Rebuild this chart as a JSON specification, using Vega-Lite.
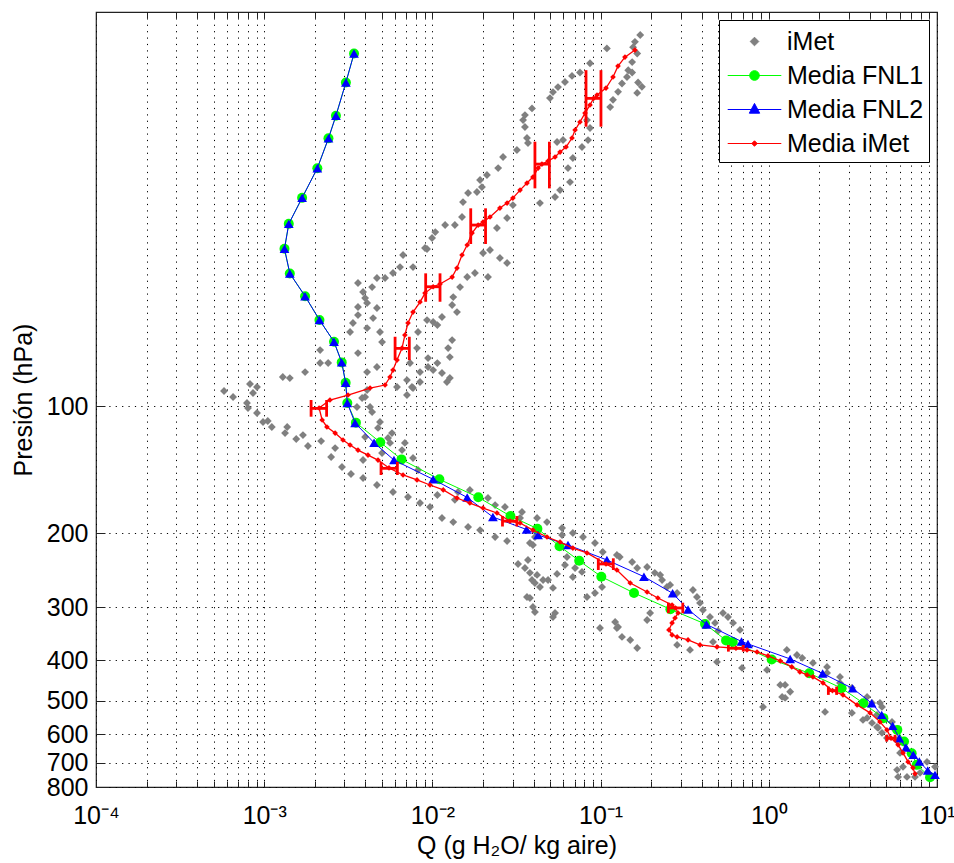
{
  "$schema": "https://vega.github.io/schema/vega-lite/v6.json",
  "width": 841,
  "height": 775,
  "autosize": {"type": "none"},
  "padding": {"left": 96, "top": 12, "right": 17, "bottom": 76},
  "background": "white",
  "config": {
    "view": {"stroke": "#222222", "strokeWidth": 1.2},
    "font": "Liberation Sans",
    "axis": {
      "domain": false,
      "gridColor": "#000000",
      "gridDash": [1.2, 5.2],
      "gridOpacity": 1,
      "gridWidth": 1,
      "tickColor": "#222222",
      "tickWidth": 1,
      "labelColor": "#000000",
      "titleColor": "#000000",
      "labelFont": "Liberation Sans",
      "titleFont": "Liberation Sans",
      "titleFontWeight": "normal"
    }
  },
  "datasets": {
    "imet": [
      {"q":0.172,"p":13.2},{"q":0.16,"p":13.7},{"q":0.156,"p":14.1},{"q":0.165,"p":14.6},{"q":0.154,"p":15.3},{"q":0.146,"p":16.0},{"q":0.167,"p":17.1},{"q":0.176,"p":17.5},{"q":0.165,"p":18.1},{"q":0.154,"p":16.2},{"q":0.1435,"p":16.6},{"q":0.134,"p":17.2},{"q":0.127,"p":18.0},{"q":0.109,"p":14.2},{"q":0.1185,"p":18.8},{"q":0.114,"p":19.56},
      {"q":0.0865,"p":15.4},{"q":0.0754,"p":16.2},{"q":0.0676,"p":16.5},{"q":0.0614,"p":17.06},{"q":0.0558,"p":17.54},{"q":0.0521,"p":18.02},{"q":0.05,"p":18.62},{"q":0.0391,"p":19.7},{"q":0.0355,"p":20.43},{"q":0.0346,"p":21.0},{"q":0.0355,"p":21.81},{"q":0.0365,"p":23.16},{"q":0.037,"p":23.8},{"q":0.0551,"p":23.67},{"q":0.0598,"p":23.41},{"q":0.083,"p":21.0},{"q":0.0865,"p":21.93},{"q":0.0842,"p":23.42},{"q":0.0775,"p":24.32},{"q":0.0684,"p":25.83},{"q":0.064,"p":27.29},{"q":0.0658,"p":29.45},{"q":0.0574,"p":30.77},{"q":0.0536,"p":31.96},{"q":0.0436,"p":33.03},
      {"q":0.0318,"p":24.72},{"q":0.0263,"p":25.69},{"q":0.0246,"p":27.29},{"q":0.0211,"p":28.34},{"q":0.0192,"p":29.13},{"q":0.0197,"p":30.27},{"q":0.0184,"p":31.1},{"q":0.0163,"p":31.27},{"q":0.0152,"p":32.85},{"q":0.015,"p":35.64},{"q":0.0136,"p":37.24},{"q":0.0119,"p":37.24},{"q":0.0104,"p":38.7},{"q":0.00995,"p":39.97},{"q":0.00904,"p":42.22},{"q":0.00767,"p":46.84},{"q":0.00669,"p":43.86},{"q":0.0301,"p":33.39},{"q":0.0278,"p":35.84},{"q":0.0242,"p":37.85},{"q":0.02,"p":43.38},{"q":0.022,"p":42.68},{"q":0.0179,"p":48.39},{"q":0.0161,"p":49.46},{"q":0.0146,"p":52.24},{"q":0.0133,"p":55.17},{"q":0.014,"p":59.88},{"q":0.0131,"p":57.62},{"q":0.0114,"p":61.53},{"q":0.0101,"p":63.23},{"q":0.0107,"p":64.28},{"q":0.00929,"p":62.55},{"q":0.0214,"p":49.46},{"q":0.0252,"p":44.59},{"q":0.0278,"p":45.82},
      {"q":0.0131,"p":69.77},{"q":0.0124,"p":72.88},{"q":0.0127,"p":76.55},{"q":0.00942,"p":80.84},{"q":0.0114,"p":83.53},{"q":0.0127,"p":85.84},{"q":0.00844,"p":83.08},{"q":0.00767,"p":90.65},{"q":0.00706,"p":86.79},{"q":0.00821,"p":66.78},{"q":0.0081,"p":72.88},{"q":0.00736,"p":79.09},{"q":0.0107,"p":79.1},{"q":0.00929,"p":42.45},{"q":0.00642,"p":46.84},{"q":0.00583,"p":48.39},{"q":0.00468,"p":49.73},{"q":0.00523,"p":49.73},{"q":0.00361,"p":51.1},{"q":0.00438,"p":52.24},{"q":0.00387,"p":53.68},{"q":0.00398,"p":55.48},{"q":0.00409,"p":57.0},{"q":0.00361,"p":58.26},{"q":0.00468,"p":58.58},{"q":0.00444,"p":61.87},{"q":0.00361,"p":60.87},{"q":0.00337,"p":63.58},{"q":0.00324,"p":66.78},{"q":0.00409,"p":65.34},{"q":0.00488,"p":66.78},{"q":0.00502,"p":70.53},
      {"q":0.00215,"p":73.69},{"q":0.00215,"p":79.09},{"q":0.0024,"p":79.09},{"q":0.00361,"p":74.9},{"q":0.00468,"p":80.84},{"q":0.00409,"p":83.08},{"q":0.00175,"p":83.08},{"q":0.00129,"p":85.37},{"q":0.00142,"p":85.85},{"q":0.00382,"p":95.73},{"q":0.00409,"p":91.64},{"q":0.00426,"p":100.5},{"q":0.00942,"p":76.97},{"q":0.00756,"p":90.15},
      {"q":0.000577,"p":92.14},{"q":0.000653,"p":95.21},{"q":0.00079,"p":98.38},{"q":0.000801,"p":101.1},{"q":0.000906,"p":103.9},{"q":0.000984,"p":109.1},{"q":0.00111,"p":112.1},{"q":0.00133,"p":115.9},{"q":0.00155,"p":119.7},{"q":0.00182,"p":124.4},{"q":0.000823,"p":88.68},{"q":0.000906,"p":90.15},{"q":0.000858,"p":93.15},{"q":0.00105,"p":108.5},{"q":0.00137,"p":112.1},{"q":0.0017,"p":117.2},{"q":0.00218,"p":121.1},{"q":0.0025,"p":132.1},{"q":0.00264,"p":125.8},{"q":0.0029,"p":139.5},{"q":0.00328,"p":144.9},{"q":0.00387,"p":148.1},{"q":0.00468,"p":153.9},{"q":0.00583,"p":159.9},{"q":0.00716,"p":164.3},{"q":0.00844,"p":169.8},{"q":0.00968,"p":173.5},
      {"q":0.00356,"p":100.5},{"q":0.00398,"p":95.21},{"q":0.00438,"p":103.3},{"q":0.00488,"p":109.1},{"q":0.00475,"p":112.7},{"q":0.00575,"p":115.9},{"q":0.00545,"p":119.1},{"q":0.00686,"p":122.3},{"q":0.00387,"p":134.3},{"q":0.00844,"p":87.7},{"q":0.0101,"p":82.18},{"q":0.00616,"p":90.15},{"q":0.00706,"p":94.17},{"q":0.0056,"p":122.3},{"q":0.00502,"p":129.2},{"q":0.00398,"p":118.4},{"q":0.0066,"p":127.2},{"q":0.00767,"p":132.8},{"q":0.00821,"p":141.8},
      {"q":0.0114,"p":184.3},{"q":0.0133,"p":188.4},{"q":0.0163,"p":193.6},{"q":0.0192,"p":196.8},{"q":0.0236,"p":204.4},{"q":0.0278,"p":208.9},{"q":0.0122,"p":87.7},{"q":0.0142,"p":159.9},{"q":0.0167,"p":158.1},{"q":0.0236,"p":171.7},{"q":0.027,"p":173.5},{"q":0.0332,"p":184.3},{"q":0.0341,"p":178.3},{"q":0.0407,"p":204.4},{"q":0.0396,"p":213.5},{"q":0.037,"p":231.7},{"q":0.0419,"p":251.4},{"q":0.0455,"p":258.4},{"q":0.0521,"p":269.9},{"q":0.0407,"p":262.7},{"q":0.038,"p":285.1},{"q":0.0396,"p":299.4},{"q":0.0536,"p":309.4},{"q":0.059,"p":202.2},{"q":0.0684,"p":200.0},{"q":0.0926,"p":211.2},{"q":0.125,"p":225.5},{"q":0.154,"p":234.2},{"q":0.189,"p":240.7},{"q":0.0992,"p":335.8},{"q":0.125,"p":335.8},{"q":0.134,"p":352.6},
      {"q":0.0107,"p":162.5},{"q":0.0136,"p":166.9},{"q":0.0214,"p":165.2},{"q":0.0419,"p":184.3},{"q":0.048,"p":188.4},{"q":0.059,"p":194.6},{"q":0.0786,"p":204.4},{"q":0.038,"p":211.2},{"q":0.0323,"p":236.8},{"q":0.0355,"p":242.0},{"q":0.038,"p":248.6},{"q":0.0391,"p":258.4},{"q":0.0436,"p":268.5},{"q":0.0365,"p":283.5},{"q":0.0407,"p":307.7},{"q":0.0487,"p":258.4},{"q":0.0551,"p":250.0},{"q":0.0614,"p":238.1},{"q":0.0631,"p":228.0},{"q":0.0705,"p":242.0},{"q":0.0684,"p":254.2},{"q":0.0775,"p":247.3},{"q":0.0521,"p":316.2},{"q":0.103,"p":221.9},{"q":0.13,"p":228.0},{"q":0.165,"p":242.0},{"q":0.21,"p":248.6},{"q":0.232,"p":258.4},{"q":0.248,"p":268.5},{"q":0.0926,"p":277.4},{"q":0.102,"p":268.5},{"q":0.083,"p":283.5},{"q":0.197,"p":309.4},
      {"q":0.226,"p":251.4},{"q":0.259,"p":265.5},{"q":0.285,"p":277.4},{"q":0.354,"p":272.9},{"q":0.374,"p":283.5},{"q":0.39,"p":292.9},{"q":0.406,"p":304.4},{"q":0.447,"p":316.2},{"q":0.479,"p":326.7},{"q":0.534,"p":309.4},{"q":0.572,"p":316.2},{"q":0.613,"p":326.7},{"q":0.674,"p":339.4},{"q":0.499,"p":341.3},{"q":0.466,"p":362.4},{"q":0.122,"p":325.0},{"q":0.127,"p":333.9},{"q":0.15,"p":358.5},{"q":0.165,"p":374.5},{"q":0.189,"p":321.5},{"q":0.285,"p":368.4},{"q":0.34,"p":378.6},{"q":0.492,"p":404.2},{"q":0.693,"p":417.6},{"q":0.976,"p":422.2},{"q":1.17,"p":458.2},{"q":1.34,"p":475.8},{"q":1.2,"p":489.3},{"q":0.924,"p":516.6},
      {"q":1.28,"p":378.6},{"q":1.47,"p":389.1},{"q":1.83,"p":406.4},{"q":2.22,"p":415.4},{"q":2.65,"p":438.7},{"q":3.12,"p":465.7},{"q":3.84,"p":489.3},{"q":4.11,"p":505.5},{"q":4.71,"p":516.6},{"q":4.4,"p":539.6},{"q":5.04,"p":611.9},{"q":6.03,"p":664.1},{"q":6.28,"p":716.7},{"q":6.63,"p":757.0},{"q":7.4,"p":757.0},{"q":2.16,"p":530.9},{"q":3.12,"p":533.8},{"q":3.63,"p":554.6},{"q":4.4,"p":576.2},{"q":1.58,"p":395.5},{"q":2.22,"p":429.2},{"q":2.65,"p":453.2},{"q":1.25,"p":458.2},{"q":1.25,"p":492.0},{"q":3.84,"p":548.6},{"q":4.11,"p":563.8},{"q":4.46,"p":579.4},{"q":4.71,"p":595.3},{"q":4.58,"p":505.5},{"q":5.4,"p":560.7},{"q":5.63,"p":585.8},{"q":5.79,"p":618.6},{"q":5.79,"p":728.5},{"q":5.87,"p":757.0},{"q":7.93,"p":740.6},{"q":8.72,"p":697.5},{"q":9.73,"p":716.7}
    ],
    "fnl1": [
      {"q":0.00342,"p":14.6},{"q":0.00306,"p":17.1},{"q":0.00267,"p":20.5},{"q":0.00241,"p":23.2},{"q":0.00207,"p":27.3},{"q":0.00168,"p":32.1},{"q":0.0014,"p":37.0},{"q":0.00132,"p":42.4},{"q":0.00142,"p":48.5},{"q":0.00175,"p":54.9},{"q":0.00213,"p":62.5},{"q":0.0026,"p":70.4},{"q":0.00289,"p":78.8},{"q":0.00305,"p":88.1},{"q":0.00312,"p":98.4},
      {"q":0.00351,"p":109.5},{"q":0.0049,"p":121.9},{"q":0.00655,"p":133.8},{"q":0.011,"p":149.2},{"q":0.01875,"p":164.6},{"q":0.0291,"p":182.3},{"q":0.0421,"p":195.3},{"q":0.057,"p":214.9},{"q":0.0746,"p":232.7},{"q":0.101,"p":253.8},{"q":0.158,"p":277.4},{"q":0.26,"p":303.2},{"q":0.418,"p":328.5},{"q":0.557,"p":359.4},{"q":0.61,"p":362.4},{"q":1.04,"p":398.8},{"q":1.74,"p":429.9},{"q":2.71,"p":466.5},{"q":3.65,"p":506.3},{"q":4.8,"p":549.4},{"q":5.81,"p":585.8},{"q":6.37,"p":624.3},{"q":7.07,"p":665.1},{"q":7.58,"p":708.9},{"q":9.09,"p":758.2}
    ],
    "fnl2": [
      {"q":0.00342,"p":14.6},{"q":0.00306,"p":17.1},{"q":0.00267,"p":20.5},{"q":0.00241,"p":23.2},{"q":0.00207,"p":27.3},{"q":0.00168,"p":32.1},{"q":0.0014,"p":37.0},{"q":0.00132,"p":42.4},{"q":0.00142,"p":48.5},{"q":0.00175,"p":54.9},{"q":0.00213,"p":62.5},{"q":0.0026,"p":70.4},{"q":0.00289,"p":78.8},{"q":0.00305,"p":88.1},{"q":0.00312,"p":98.4},
      {"q":0.00347,"p":109.7},{"q":0.0045,"p":122.2},{"q":0.00591,"p":134.3},{"q":0.0101,"p":149.2},{"q":0.0161,"p":164.7},{"q":0.0229,"p":183.3},{"q":0.0363,"p":196.2},{"q":0.0425,"p":202.2},{"q":0.064,"p":213.5},{"q":0.109,"p":231.7},{"q":0.181,"p":253.8},{"q":0.268,"p":277.9},{"q":0.331,"p":303.5},{"q":0.426,"p":329.4},{"q":0.688,"p":361.4},{"q":0.752,"p":366.4},{"q":1.34,"p":397.7},{"q":2.09,"p":430.4},{"q":3.15,"p":467.0},{"q":4.09,"p":506.3},{"q":4.69,"p":539.6},{"q":5.45,"p":573.1},{"q":5.97,"p":612.8},{"q":6.54,"p":645.1},{"q":7.23,"p":671.3},{"q":7.85,"p":696.3},{"q":8.81,"p":731.3},{"q":9.73,"p":748.7}
    ],
    "media": [
      {"q":0.16,"p":14.33},{"q":0.1396,"p":14.89},{"q":0.1269,"p":15.64},{"q":0.1185,"p":16.6},{"q":0.1077,"p":17.63},{"q":0.0952,"p":18.32},{"q":0.0908,"p":18.65},{"q":0.0865,"p":19.34},{"q":0.0808,"p":20.21},{"q":0.0754,"p":21.22},{"q":0.0705,"p":22.17},{"q":0.0676,"p":23.16},{"q":0.0623,"p":24.32},{"q":0.0574,"p":25.0},{"q":0.0536,"p":25.69},{"q":0.0487,"p":26.26},{"q":0.0448,"p":26.7},{"q":0.0425,"p":27.29},{"q":0.0396,"p":28.66},{"q":0.0365,"p":29.61},{"q":0.0332,"p":30.77},{"q":0.0301,"p":32.14},{"q":0.0278,"p":33.03},{"q":0.0252,"p":33.94},{"q":0.022,"p":35.64},{"q":0.02,"p":36.63},{"q":0.0187,"p":37.24},{"q":0.0172,"p":38.9},{"q":0.0161,"p":41.53},{"q":0.015,"p":43.86},{"q":0.014,"p":47.09},{"q":0.0131,"p":49.46},{"q":0.0111,"p":51.38},{"q":0.0101,"p":52.15},{"q":0.00904,"p":53.98},{"q":0.00844,"p":56.69},{"q":0.00767,"p":59.88},{"q":0.00716,"p":63.58},{"q":0.00686,"p":67.89},{"q":0.0066,"p":72.88},{"q":0.00616,"p":77.81},{"q":0.00583,"p":82.18},{"q":0.0056,"p":85.37},{"q":0.00523,"p":89.17},{"q":0.00426,"p":90.65},{"q":0.00315,"p":94.17},{"q":0.00246,"p":96.77},{"q":0.00212,"p":101.1},
      {"q":0.00221,"p":107.9},{"q":0.00236,"p":112.1},{"q":0.00264,"p":115.9},{"q":0.00294,"p":120.4},{"q":0.00324,"p":123.7},{"q":0.00361,"p":127.2},{"q":0.00414,"p":130.7},{"q":0.00475,"p":134.3},{"q":0.00552,"p":140.2},{"q":0.00669,"p":145.7},{"q":0.0081,"p":149.7},{"q":0.00968,"p":153.9},{"q":0.0116,"p":158.1},{"q":0.014,"p":165.2},{"q":0.0167,"p":169.8},{"q":0.02,"p":174.5},{"q":0.0242,"p":179.3},{"q":0.0289,"p":187.4},{"q":0.0332,"p":189.4},{"q":0.0396,"p":196.8},{"q":0.048,"p":204.4},{"q":0.0574,"p":210.1},{"q":0.0684,"p":217.1},{"q":0.083,"p":223.0},{"q":0.1077,"p":236.8},{"q":0.125,"p":244.7},{"q":0.15,"p":262.7},{"q":0.189,"p":275.9},{"q":0.219,"p":285.1},{"q":0.266,"p":296.2},{"q":0.279,"p":301.1},{"q":0.289,"p":309.4},{"q":0.277,"p":318.0},{"q":0.266,"p":326.7},{"q":0.255,"p":339.4},{"q":0.266,"p":348.8},{"q":0.285,"p":352.6},{"q":0.331,"p":358.5},{"q":0.39,"p":368.4},{"q":0.492,"p":372.4},{"q":0.638,"p":375.1},{"q":0.742,"p":378.6},{"q":0.851,"p":382.8},{"q":0.989,"p":391.2},{"q":1.17,"p":402.0},{"q":1.37,"p":415.4},{"q":1.53,"p":426.9},{"q":1.69,"p":433.9},{"q":1.83,"p":438.7},{"q":2.1,"p":453.2},{"q":2.39,"p":472.7},{"q":2.76,"p":483.9},{"q":3.35,"p":511.0},{"q":4.0,"p":533.8},{"q":4.58,"p":560.7},{"q":5.04,"p":585.8},{"q":5.33,"p":612.8},{"q":5.87,"p":635.6},{"q":6.28,"p":664.1},{"q":6.73,"p":697.5},{"q":7.2,"p":720.6},{"q":7.4,"p":744.6}
    ],
    "err": [
      {"p":18.65,"qlo":0.0819,"qhi":0.1005,"ptop":15.99,"pbot":21.77},
      {"p":26.7,"qlo":0.0407,"qhi":0.0496,"ptop":23.63,"pbot":30.48},
      {"p":37.24,"qlo":0.0169,"qhi":0.0207,"ptop":33.99,"pbot":41.3},
      {"p":52.15,"qlo":0.00912,"qhi":0.0111,"ptop":48.47,"pbot":56.6},
      {"p":73.0,"qlo":0.006,"qhi":0.00729,"ptop":68.52,"pbot":77.81},
      {"p":101.3,"qlo":0.0019,"qhi":0.00235,"ptop":96.77,"pbot":106.0},
      {"p":140.5,"qlo":0.00495,"qhi":0.00619,"ptop":135.6,"pbot":145.7},
      {"p":187.4,"qlo":0.0261,"qhi":0.0318,"ptop":182.3,"pbot":193.0},
      {"p":236.8,"qlo":0.0969,"qhi":0.119,"ptop":229.6,"pbot":244.7},
      {"p":301.1,"qlo":0.253,"qhi":0.308,"ptop":292.5,"pbot":309.9},
      {"p":375.1,"qlo":0.575,"qhi":0.705,"ptop":368.4,"pbot":382.1},
      {"p":472.7,"qlo":2.26,"qhi":2.53,"ptop":462.5,"pbot":483.9},
      {"p":612.8,"qlo":5.02,"qhi":5.63,"ptop":601.9,"pbot":624.3}
    ]
  },
  "resolve": {"axis": {"x": "independent", "y": "independent"}},
  "layer": [
    {
      "data": {"name": "imet"},
      "mark": {"type": "point", "shape": "diamond", "filled": true, "color": "#808080", "size": 62, "opacity": 1},
      "encoding": {
        "x": {"field": "q", "type": "quantitative", "scale": {"type": "log", "domain": [0.0001, 10], "nice": false},
          "axis": {"orient": "bottom", "grid": true, "tickSize": -6, "labelPadding": 22, "labelFontSize": 25, "labelOverlap": false, "labelBound": false, "labelFlush": false,
            "values": [0.0001,0.0002,0.0003,0.0004,0.0005,0.0006,0.0007,0.0008,0.0009,0.001,0.002,0.003,0.004,0.005,0.006,0.007,0.008,0.009,0.01,0.02,0.03,0.04,0.05,0.06,0.07,0.08,0.09,0.1,0.2,0.3,0.4,0.5,0.6,0.7,0.8,0.9,1,2,3,4,5,6,7,8,9,10],
            "labelExpr": "datum.value == 0.0001 ? '10⁻⁴' : datum.value == 0.001 ? '10⁻³' : datum.value == 0.01 ? '10⁻²' : datum.value == 0.1 ? '10⁻¹' : datum.value == 1 ? '10⁰' : datum.value == 10 ? '10¹' : ''",
            "title": "Q (g H₂O/ kg aire)", "titleFontSize": 25, "titlePadding": 5}},
        "y": {"field": "p", "type": "quantitative", "scale": {"type": "log", "domain": [11.64, 800], "nice": false, "reverse": true},
          "axis": {"orient": "left", "grid": true, "tickSize": -9, "labelPadding": 17, "labelFontSize": 25, "labelOverlap": false, "labelBound": false, "labelFlush": false, "values": [100,200,300,400,500,600,700,800],
            "title": "Presión (hPa)", "titleFontSize": 25, "titlePadding": 10}}
      }
    },
    {
      "data": {"name": "fnl1"},
      "mark": {"type": "line", "color": "#00ff00", "strokeWidth": 1},
      "encoding": {
        "x": {"field": "q", "type": "quantitative", "scale": {"type": "log", "domain": [0.0001, 10], "nice": false},
          "axis": {"orient": "top", "grid": false, "labels": false, "title": null, "tickSize": -6,
            "values": [0.0001,0.0002,0.0003,0.0004,0.0005,0.0006,0.0007,0.0008,0.0009,0.001,0.002,0.003,0.004,0.005,0.006,0.007,0.008,0.009,0.01,0.02,0.03,0.04,0.05,0.06,0.07,0.08,0.09,0.1,0.2,0.3,0.4,0.5,0.6,0.7,0.8,0.9,1,2,3,4,5,6,7,8,9,10]}},
        "y": {"field": "p", "type": "quantitative", "scale": {"type": "log", "domain": [11.64, 800], "nice": false, "reverse": true},
          "axis": {"orient": "right", "grid": false, "labels": false, "title": null, "tickSize": -9, "values": [100,200,300,400,500,600,700,800]}},
        "order": {"field": "p", "type": "quantitative"}
      }
    },
    {
      "data": {"name": "fnl1"},
      "mark": {"type": "point", "shape": "circle", "filled": true, "color": "#00ff00", "size": 100, "opacity": 1},
      "encoding": {
        "x": {"field": "q", "type": "quantitative", "axis": null},
        "y": {"field": "p", "type": "quantitative", "axis": null}
      }
    },
    {
      "data": {"name": "fnl2"},
      "mark": {"type": "line", "color": "#0000ff", "strokeWidth": 1},
      "encoding": {
        "x": {"field": "q", "type": "quantitative", "axis": null},
        "y": {"field": "p", "type": "quantitative", "axis": null},
        "order": {"field": "p", "type": "quantitative"}
      }
    },
    {
      "data": {"name": "fnl2"},
      "mark": {"type": "point", "shape": "triangle-up", "filled": true, "color": "#0000ff", "size": 95, "opacity": 1},
      "encoding": {
        "x": {"field": "q", "type": "quantitative", "axis": null},
        "y": {"field": "p", "type": "quantitative", "axis": null}
      }
    },
    {
      "data": {"name": "media"},
      "mark": {"type": "line", "color": "#ff0000", "strokeWidth": 1.3},
      "encoding": {
        "x": {"field": "q", "type": "quantitative", "axis": null},
        "y": {"field": "p", "type": "quantitative", "axis": null},
        "order": {"field": "p", "type": "quantitative"}
      }
    },
    {
      "data": {"name": "media"},
      "mark": {"type": "point", "shape": "diamond", "filled": true, "color": "#ff0000", "size": 32, "opacity": 1},
      "encoding": {
        "x": {"field": "q", "type": "quantitative", "axis": null},
        "y": {"field": "p", "type": "quantitative", "axis": null}
      }
    },
    {
      "data": {"name": "err"},
      "mark": {"type": "rule", "color": "#ff0000", "strokeWidth": 2.8},
      "encoding": {
        "x": {"field": "qlo", "type": "quantitative", "axis": null},
        "x2": {"field": "qhi"},
        "y": {"field": "p", "type": "quantitative", "axis": null}
      }
    },
    {
      "data": {"name": "err"},
      "mark": {"type": "rule", "color": "#ff0000", "strokeWidth": 2.8},
      "encoding": {
        "x": {"field": "qlo", "type": "quantitative", "axis": null},
        "y": {"field": "ptop", "type": "quantitative", "axis": null},
        "y2": {"field": "pbot"}
      }
    },
    {
      "data": {"name": "err"},
      "mark": {"type": "rule", "color": "#ff0000", "strokeWidth": 2.8},
      "encoding": {
        "x": {"field": "qhi", "type": "quantitative", "axis": null},
        "y": {"field": "ptop", "type": "quantitative", "axis": null},
        "y2": {"field": "pbot"}
      }
    },
    {
      "data": {"values": []},
      "mark": {"type": "point", "filled": true, "opacity": 1, "strokeWidth": 1},
      "encoding": {
        "fill": {"field": "series", "type": "nominal",
          "scale": {"domain": ["iMet", "Media FNL1", "Media FNL2", "Media iMet"], "range": ["#808080", "#00ff00", "#0000ff", "#ff0000"]},
          "legend": {"title": null, "orient": "top-right", "offset": 8, "padding": 5, "strokeColor": "#000000", "fillColor": "#ffffff", "symbolSize": 1024, "symbolStrokeWidth": 1, "symbolOpacity": 1, "labelFontSize": 25, "labelFont": "Liberation Sans", "labelColor": "#000000", "labelOffset": 30, "rowPadding": 4, "labelLimit": 400}},
        "stroke": {"field": "series", "type": "nominal",
          "scale": {"domain": ["iMet", "Media FNL1", "Media FNL2", "Media iMet"], "range": ["#808080", "#00ff00", "#0000ff", "#ff0000"]},
          "legend": {"title": null, "orient": "top-right", "offset": 8, "padding": 5, "strokeColor": "#000000", "fillColor": "#ffffff", "symbolSize": 1024, "symbolStrokeWidth": 1, "symbolOpacity": 1, "labelFontSize": 25, "labelFont": "Liberation Sans", "labelColor": "#000000", "labelOffset": 30, "rowPadding": 4, "labelLimit": 400}},
        "shape": {"field": "series", "type": "nominal",
          "scale": {"domain": ["iMet", "Media FNL1", "Media FNL2", "Media iMet"],
            "range": ["M0.875,-0.27L1.145,0L0.875,0.27L0.605,0Z",
                      "M-0.8,0L2.55,0M1.175,0A0.3,0.3 0 1,1 0.575,0A0.3,0.3 0 1,1 1.175,0Z",
                      "M-0.8,0L2.55,0M0.875,-0.38L1.2,0.23L0.55,0.23Z",
                      "M-0.8,0L2.55,0M0.875,-0.17L1.045,0L0.875,0.17L0.705,0Z"]},
          "legend": {"title": null, "orient": "top-right", "offset": 8, "padding": 5, "strokeColor": "#000000", "fillColor": "#ffffff", "symbolSize": 1024, "symbolStrokeWidth": 1, "symbolOpacity": 1, "labelFontSize": 25, "labelFont": "Liberation Sans", "labelColor": "#000000", "labelOffset": 30, "rowPadding": 4, "labelLimit": 400}}
      }
    }
  ]
}
